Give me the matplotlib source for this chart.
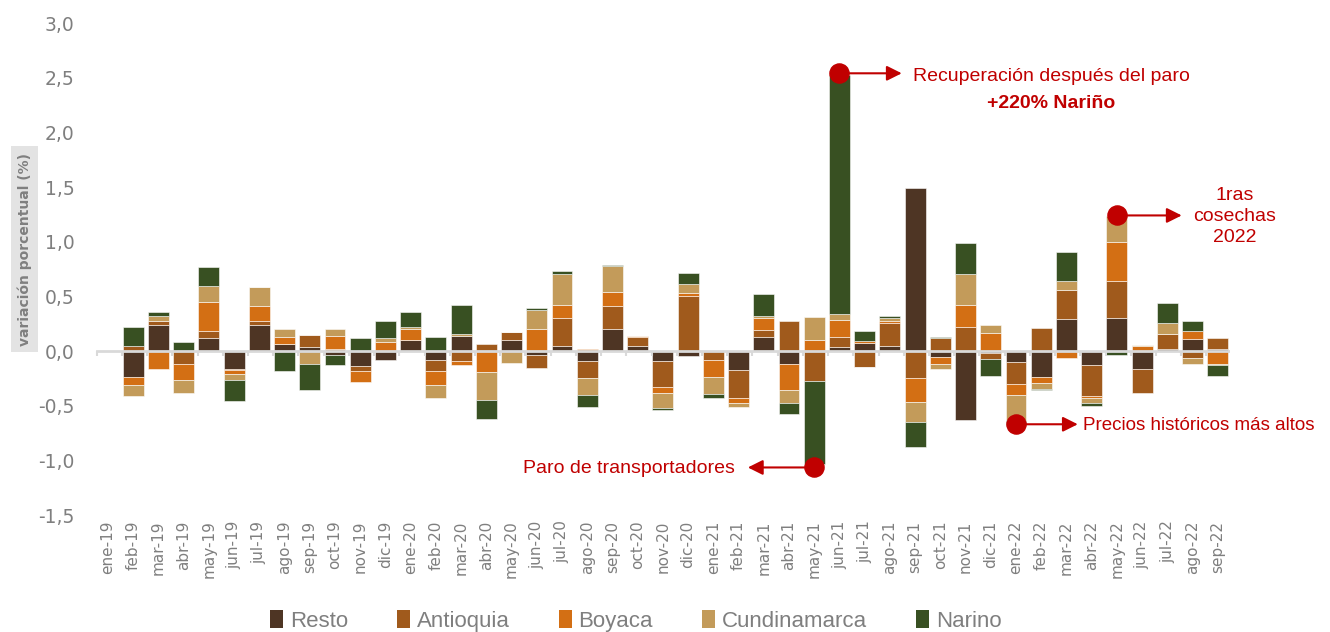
import numpy as np
import matplotlib
matplotlib.use("Agg")
import matplotlib.pyplot as plt
from matplotlib.patches import Patch

# months ene-19 .. sep-22
MESES_ABR = ["ene", "feb", "mar", "abr", "may", "jun",
             "jul", "ago", "sep", "oct", "nov", "dic"]
months = [f"{m}-{y}" for y in ("19", "20", "21", "22") for m in MESES_ABR][:45]

resto = [0, -0.236, 0.236, 0, 0.122, -0.165, 0.236, 0.061, 0.04, -0.037,
         -0.138, -0.083, 0.098, -0.083, 0.14, 0, 0.104, -0.037, 0.043, -0.092,
         0.199, 0.043, -0.092, -0.043, 0, -0.171, 0.132, -0.12, 0, 0.04,
         0.07, 0.043, 1.494, -0.055, -0.627, -0.015, -0.098, -0.239, 0.297, -0.132,
         0.306, -0.165, 0.021, 0.113, 0.021]
antioquia = [0, 0.049, 0.037, -0.12, 0.061, -0.01, 0.04, 0, 0.107, 0.015,
             -0.043, 0, 0, -0.098, -0.09, 0.061, 0.073, -0.12, 0.257, -0.153,
             0.214, 0.083, -0.236, 0.505, -0.08, -0.257, 0.058, 0.279, -0.275, 0.086,
             -0.144, 0.214, -0.245, 0.122, 0.217, -0.055, -0.2, 0.211, 0.263, -0.275,
             0.337, -0.217, 0.138, -0.067, 0.098]
boyaca = [0, -0.073, -0.16, -0.144, 0.263, -0.037, 0.135, 0.07, 0, 0.122,
          -0.1, 0.08, 0.101, -0.128, -0.037, -0.19, 0, 0.205, 0.119, 0.015,
          0.125, 0.012, -0.055, 0.024, -0.156, -0.046, 0.11, -0.239, 0.104, 0.156,
          0.024, 0.015, -0.223, -0.067, 0.208, 0.162, -0.107, -0.058, -0.064, -0.021,
          0.352, 0.049, 0, 0.07, -0.116]
cundinamarca = [0, -0.104, 0.043, -0.116, 0.15, -0.049, 0.171, 0.073, -0.12, 0.064,
                0, 0.037, 0.024, -0.12, 0.018, -0.254, -0.107, 0.174, 0.285, -0.153,
                0.239, 0, -0.141, 0.083, -0.156, -0.034, 0.024, -0.116, 0.205, 0.052,
                -0.006, 0.034, -0.18, -0.04, 0.275, 0.077, -0.223, -0.046, 0.08, -0.052,
                0.242, 0.01, 0.098, -0.049, -0.012]
narino = [0, 0.174, 0.037, 0.083, 0.168, -0.2, 0, -0.18, -0.233, -0.095,
          0.122, 0.153, 0.135, 0.13, 0.266, -0.174, 0, 0.01, 0.024, -0.113,
          0.012, -0.012, -0.018, 0.104, -0.034, 0, 0.199, -0.104, -0.76, 2.19,
          0.089, 0.012, -0.23, 0.01, 0.29, -0.16, -0.052, -0.012, 0.263, -0.024,
          -0.034, 0, 0.184, 0.095, -0.104]

SERIES = [
    ("Resto", resto, "#4e3524"),
    ("Antioquia", antioquia, "#a05a1c"),
    ("Boyaca", boyaca, "#d36f14"),
    ("Cundinamarca", cundinamarca, "#c39b5a"),
    ("Narino", narino, "#385022"),
]

GRAY = "#7f7f7f"
RED = "#c00000"
NARROW = ["Liberation Sans", "DejaVu Sans"]
ANN_SIZE = 14

fig = plt.figure(figsize=(13.3, 6.32), dpi=100)
ax = fig.add_axes([0.0717, 0.1851, 0.8534, 0.7785])

x = np.arange(len(months))
pos_bottom = np.zeros(len(months))
neg_bottom = np.zeros(len(months))
for name, vals, color in SERIES:
    v = np.array(vals, dtype=float)
    bottom = np.where(v >= 0, pos_bottom, neg_bottom)
    ax.bar(x, v, width=0.83, bottom=bottom, color=color,
           edgecolor=(1, 1, 1, 0.55), linewidth=0.7, zorder=2)
    pos_bottom += np.clip(v, 0, None)
    neg_bottom += np.clip(v, None, 0)

# zero line with small boundary ticks
ax.plot([-0.45, len(months) - 0.5], [0, 0], color="#d9d9d9", lw=2, zorder=3)
ax.vlines(np.arange(len(months) + 1) - 0.45, -0.045, 0, color="#d9d9d9", lw=1.5, zorder=3)

ax.set_xlim(-0.5, len(months) - 0.5)
ax.set_ylim(-1.5, 3.0)
yt = np.arange(-1.5, 3.01, 0.5)
ax.set_yticks(yt, [f"{t:.1f}".replace(".", ",") for t in yt])
ax.set_xticks(x, months, rotation=90)
ax.tick_params(axis="y", length=0, pad=15, labelsize=13.5, labelcolor=GRAY)
ax.tick_params(axis="x", length=0, pad=4, labelsize=11, labelcolor=GRAY)
for s in ax.spines.values():
    s.set_visible(False)

fig.text(0.0185, 1 - 249 / 632, "variación porcentual (%)", rotation=90,
         ha="center", va="center", fontsize=10, fontweight="bold", color=GRAY,
         bbox=dict(boxstyle="square,pad=0.45", facecolor="#e3e3e3", edgecolor="none"))

# annotations
arrow = dict(arrowstyle="-|>,head_length=0.9,head_width=0.45", color=RED, lw=1.5,
             shrinkA=0, shrinkB=0)
dot = dict(s=190, color=RED, zorder=6, clip_on=False)

ax.scatter([29], [2.54], **dot)
ax.annotate("", xy=(31.47, 2.54), xytext=(29, 2.54), arrowprops=arrow, zorder=5)
ax.text(37.4, 2.51, "Recuperación después del paro", ha="center", va="center",
        fontsize=ANN_SIZE, color=RED, family=NARROW)
ax.text(37.4, 2.26, "+220% Nariño", ha="center", va="center",
        fontsize=ANN_SIZE, color=RED, fontweight="bold", family=NARROW)

ax.scatter([40], [1.24], **dot)
ax.annotate("", xy=(42.57, 1.24), xytext=(40, 1.24), arrowprops=arrow, zorder=5)
ax.text(44.67, 1.23, "1ras\ncosechas\n2022", ha="center", va="center",
        fontsize=ANN_SIZE, color=RED, family=NARROW, linespacing=1.3, clip_on=False)

ax.scatter([36], [-0.67], **dot)
ax.annotate("", xy=(38.45, -0.67), xytext=(36, -0.67), arrowprops=arrow, zorder=5)
ax.text(38.65, -0.68, "Precios históricos más altos", ha="left", va="center",
        fontsize=13.5, color=RED, family=NARROW, clip_on=False)

ax.scatter([28], [-1.065], **dot)
ax.annotate("", xy=(25.37, -1.065), xytext=(28, -1.065), arrowprops=arrow, zorder=5)
ax.text(24.85, -1.075, "Paro de transportadores", ha="right", va="center",
        fontsize=ANN_SIZE, color=RED, family=NARROW)

handles = [Patch(facecolor=c, edgecolor="none", label=n) for n, _, c in SERIES]
leg = fig.legend(handles=handles, loc="center", bbox_to_anchor=(0.478, 0.018),
                 ncol=5, frameon=False, handlelength=0.6, handleheight=0.9,
                 handletextpad=0.3, columnspacing=2.2,
                 prop=dict(family=NARROW, size=16))
for t in leg.get_texts():
    t.set_color(GRAY)

fig.savefig("out.png", dpi=100)
